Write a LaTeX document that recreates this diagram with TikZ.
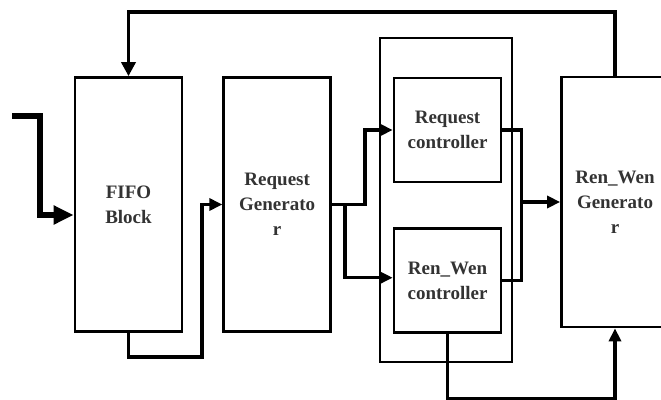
\documentclass[tikz,border=0pt]{standalone}
\usepackage{fontspec}
\setmainfont{Liberation Serif}
\usetikzlibrary{arrows.meta, positioning, calc}

\begin{document}
\begin{tikzpicture}[
    x=1pt, y=-1pt,
    block/.style={draw, line width=2.7pt, inner sep=0pt, minimum width=107pt,
                  align=center, text=black!80,
                  font=\bfseries\fontsize{19}{25}\selectfont},
    tall/.style={block, minimum height=254pt},
    ctrl/.style={block, minimum height=104pt},
    link/.style={line width=3.2pt, -{Triangle[length=13pt,width=12pt]}},
    feed/.style={line width=3.8pt, -{Triangle[length=14pt,width=14pt]}},
    inlink/.style={line width=5.5pt, -{Triangle[length=20pt,width=18pt]}}
]
\useasboundingbox (0,0) rectangle (661,399);
% blocks
\node[tall] (fifo) at (128.5,204.5) {FIFO\\Block};
\node[tall, right=39pt of fifo] (reqgen) {Request\\Generato\\r};
\node[block, minimum width=132pt, minimum height=324pt] (ctrlbox) at (446,200) {};
\node[ctrl] (reqctrl) at (447.5,130) {Request\\controller};
\node[ctrl, below=44pt of reqctrl] (rwctrl) {Ren\_Wen\\controller};
\node[block, minimum height=250pt] (rwgen) at (615,202) {Ren\_Wen\\Generato\\r};
% input
\coordinate (src) at (12,116);
\draw[inlink] (src) -- (40,116) |- ([yshift=-10.5pt]fifo.west);
% fifo -> request generator
\draw[link] (fifo.south) |- (202,357) |- (reqgen.west);
% request generator -> controllers
\draw[link] (reqgen.east) -- ++(33,0) |- (reqctrl.west);
\draw[link] ([xshift=13pt]reqgen.east) |- ([yshift=3pt]rwctrl.west);
% controllers -> ren_wen generator
\coordinate (merge) at ($(reqctrl.east)+(19,0)$);
\draw[line width=3.2pt] (reqctrl.east) -- (merge) |- (rwctrl.east);
\draw[link] (merge |- rwgen.west) -- (rwgen.west);
\draw[link] (rwctrl.south) -- ++(0,65) -| (rwgen.south);
% feedback
\draw[feed] (rwgen.north) -- ++(0,-64) -| (fifo.north);
\end{tikzpicture}
\end{document}
